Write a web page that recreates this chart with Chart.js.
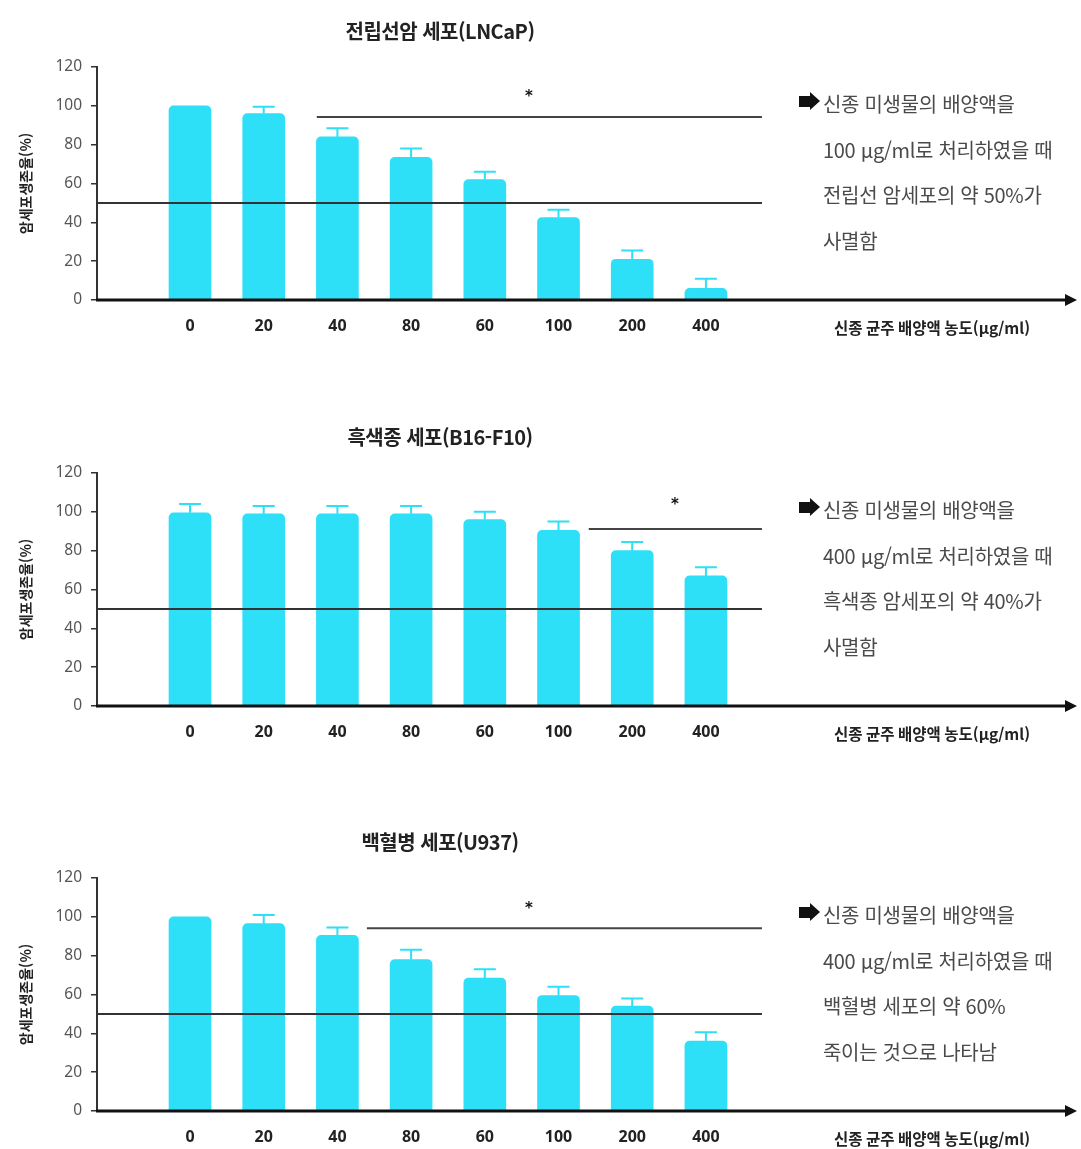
<!DOCTYPE html>
<html lang="ko">
<head>
<meta charset="utf-8">
<title>신종 균주 배양액 농도별 암세포 생존율</title>
<script src="https://cdn.jsdelivr.net/npm/chart.js@4.4.1/dist/chart.umd.min.js"></script>
<style>
  body { margin: 0; background: #fff; width: 1081px; height: 1149px; position: relative; overflow: hidden;
         font-family: "Noto Sans CJK KR", "Noto Sans", sans-serif; }
  .panel { position: absolute; left: 0; width: 1081px; height: 338px; }
  .panel canvas { position: absolute; left: 0; top: 0; }
  .title { position: absolute; top: 16px; left: 240px; width: 400px; text-align: center; font-size: 20px;
           line-height: 30px; font-weight: 700; color: #222; letter-spacing: -0.5px; white-space: nowrap; }
  .note { position: absolute; left: 823px; top: 81px; font-size: 20px; line-height: 45.5px; color: #4a4a4a;
          white-space: nowrap; letter-spacing: -0.3px; }
  /* block arrow in front of the first line */
  .note .arrow { position: absolute; left: -24px; top: 15px; width: 11px; height: 11px; background: #111; }
  .note .arrow::after { content: ""; position: absolute; left: 11px; top: -4px; border-left: 10px solid #111;
                        border-top: 9.5px solid transparent; border-bottom: 9.5px solid transparent; }
</style>
</head>
<body>

<div class="panel" style="top:0px">
  <canvas id="lncapChart" width="1081" height="338"></canvas>
  <div class="title">전립선암 세포(LNCaP)</div>
  <div class="note"><span class="arrow"></span>신종 미생물의 배양액을<br>100 μg/ml로 처리하였을 때<br>전립선 암세포의 약 50%가<br>사멸함</div>
</div>

<div class="panel" style="top:406px">
  <canvas id="b16Chart" width="1081" height="338"></canvas>
  <div class="title">흑색종 세포(B16-F10)</div>
  <div class="note"><span class="arrow"></span>신종 미생물의 배양액을<br>400 μg/ml로 처리하였을 때<br>흑색종 암세포의 약 40%가<br>사멸함</div>
</div>

<div class="panel" style="top:811px">
  <canvas id="u937Chart" width="1081" height="338"></canvas>
  <div class="title">백혈병 세포(U937)</div>
  <div class="note"><span class="arrow"></span>신종 미생물의 배양액을<br>400 μg/ml로 처리하였을 때<br>백혈병 세포의 약 60%<br>죽이는 것으로 나타남</div>
</div>

<script>
// Data
const doses = ['0', '20', '40', '80', '60', '100', '200', '400'];
const yTicks = [0, 20, 40, 60, 80, 100, 120];

const lncapValues = [100, 96, 84, 73.5, 62, 42.5, 21, 6];
const lncapErrors = [0, 3.5, 4.5, 4.5, 4, 4, 4.5, 5];

const b16Values = [99.5, 99, 99, 99, 96, 90.5, 80, 67];
const b16Errors = [4.5, 4, 4, 4, 4, 4.5, 4.5, 4.5];

const u937Values = [100, 96.5, 90.5, 78, 68.5, 59.5, 54, 36];
const u937Errors = [0, 4.5, 4, 5, 4.5, 4.5, 4, 4.5];

const BAR_COLOR = '#2ddff7';
const X_MIN = -1.262;
const X_MAX = 12.035;
const REF_LEVEL = 50;
const REF_END = 7.76;

Chart.defaults.font.family = '"Noto Sans", "Noto Sans CJK KR", sans-serif';

// Draws error bars, 50% line, significance bar and the arrow x axis
const overlayPlugin = {
    id: 'overlay',
    afterDatasetsDraw(chart, args, opts) {
        const {ctx, chartArea} = chart;
        const x = chart.scales.x;
        const y = chart.scales.y;
        const ds = chart.data.datasets[0];
        ctx.save();

        // error bars
        ctx.strokeStyle = BAR_COLOR;
        ctx.lineWidth = 2;
        ds.data.forEach((p, i) => {
            const e = opts.errors[i];
            if (!e) return;
            const px = x.getPixelForValue(p.x);
            const y0 = y.getPixelForValue(p.y);
            const y1 = y.getPixelForValue(p.y + e);
            ctx.beginPath();
            ctx.moveTo(px, y0);
            ctx.lineTo(px, y1);
            ctx.moveTo(px - 11, y1);
            ctx.lineTo(px + 11, y1);
            ctx.stroke();
        });

        // 50% reference line
        ctx.strokeStyle = '#333';
        ctx.lineWidth = 2;
        const yRef = y.getPixelForValue(REF_LEVEL);
        ctx.beginPath();
        ctx.moveTo(chartArea.left, yRef);
        ctx.lineTo(x.getPixelForValue(REF_END), yRef);
        ctx.stroke();

        // significance bar + asterisk
        const s = opts.sig;
        const ySig = y.getPixelForValue(s.level);
        ctx.strokeStyle = '#444';
        ctx.beginPath();
        ctx.moveTo(x.getPixelForValue(s.from), ySig);
        ctx.lineTo(x.getPixelForValue(s.to), ySig);
        ctx.stroke();
        ctx.fillStyle = '#111';
        ctx.font = 'bold 15px "DejaVu Sans"';
        ctx.textAlign = 'center';
        ctx.textBaseline = 'middle';
        ctx.fillText('*', x.getPixelForValue(s.starX), y.getPixelForValue(s.starY) + 3);

        // x axis with arrow head
        const yb = y.getPixelForValue(0);
        ctx.strokeStyle = '#111';
        ctx.fillStyle = '#111';
        ctx.lineWidth = 3;
        ctx.beginPath();
        ctx.moveTo(chartArea.left - 1, yb);
        ctx.lineTo(chartArea.right - 8, yb);
        ctx.stroke();
        ctx.beginPath();
        ctx.moveTo(chartArea.right, yb);
        ctx.lineTo(chartArea.right - 12, yb - 6);
        ctx.lineTo(chartArea.right - 12, yb + 6);
        ctx.closePath();
        ctx.fill();

        // x axis caption
        ctx.font = 'bold 15.5px "Noto Sans CJK KR"';
        ctx.fillStyle = '#222';
        ctx.textAlign = 'right';
        ctx.fillText('신종 균주 배양액 농도(μg/ml)', chartArea.right - 47, yb + 28);

        ctx.restore();
    }
};

function makeChart(id, values, errors, sig) {
    const ctx = document.getElementById(id).getContext('2d');

    return new Chart(ctx, {
        type: 'bar',
        data: {
            datasets: [{
                data: values.map((v, i) => ({x: i, y: v})),
                backgroundColor: BAR_COLOR,
                borderRadius: {topLeft: 5, topRight: 5, bottomLeft: 0, bottomRight: 0},
                borderSkipped: 'start',
                barThickness: 42
            }]
        },
        options: {
            responsive: false,
            animation: false,
            layout: {padding: {top: 67, right: 4, left: 0, bottom: 0}},
            plugins: {
                legend: {display: false},
                tooltip: {enabled: false},
                overlay: {errors: errors, sig: sig}
            },
            scales: {
                x: {
                    type: 'linear',
                    offset: false,
                    min: X_MIN,
                    max: X_MAX,
                    grid: {display: false, drawTicks: false},
                    border: {display: false},
                    afterBuildTicks: scale => {
                        scale.ticks = doses.map((d, i) => ({value: i}));
                    },
                    afterFit: scale => { scale.height = 38; },
                    ticks: {
                        padding: 17,
                        color: '#222',
                        autoSkip: false,
                        maxRotation: 0,
                        font: {size: 16, weight: 'bold'},
                        callback: value => doses[value]
                    }
                },
                y: {
                    min: 0,
                    max: 120,
                    afterBuildTicks: scale => {
                        scale.ticks = yTicks.map(v => ({value: v}));
                    },
                    afterFit: scale => { scale.width = 97; },
                    grid: {display: true, drawOnChartArea: false, drawTicks: true, tickLength: 6, color: '#333', lineWidth: 1.5},
                    border: {display: true, color: '#333', width: 2},
                    ticks: {padding: 9, color: '#555', font: {size: 15.5}},
                    title: {
                        display: true,
                        text: '암세포생존율(%)',
                        color: '#222',
                        padding: {top: 17, bottom: 0},
                        font: {family: '"Noto Sans CJK KR"', size: 14, weight: 'bold'}
                    }
                }
            }
        },
        plugins: [overlayPlugin]
    });
}

makeChart('lncapChart', lncapValues, lncapErrors, {from: 1.72, to: 7.76, level: 94.2, starX: 4.6, starY: 106});
makeChart('b16Chart', b16Values, b16Errors, {from: 5.41, to: 7.76, level: 91.2, starX: 6.58, starY: 105.2});
makeChart('u937Chart', u937Values, u937Errors, {from: 2.40, to: 7.76, level: 94.1, starX: 4.6, starY: 105.3});
</script>
</body>
</html>
